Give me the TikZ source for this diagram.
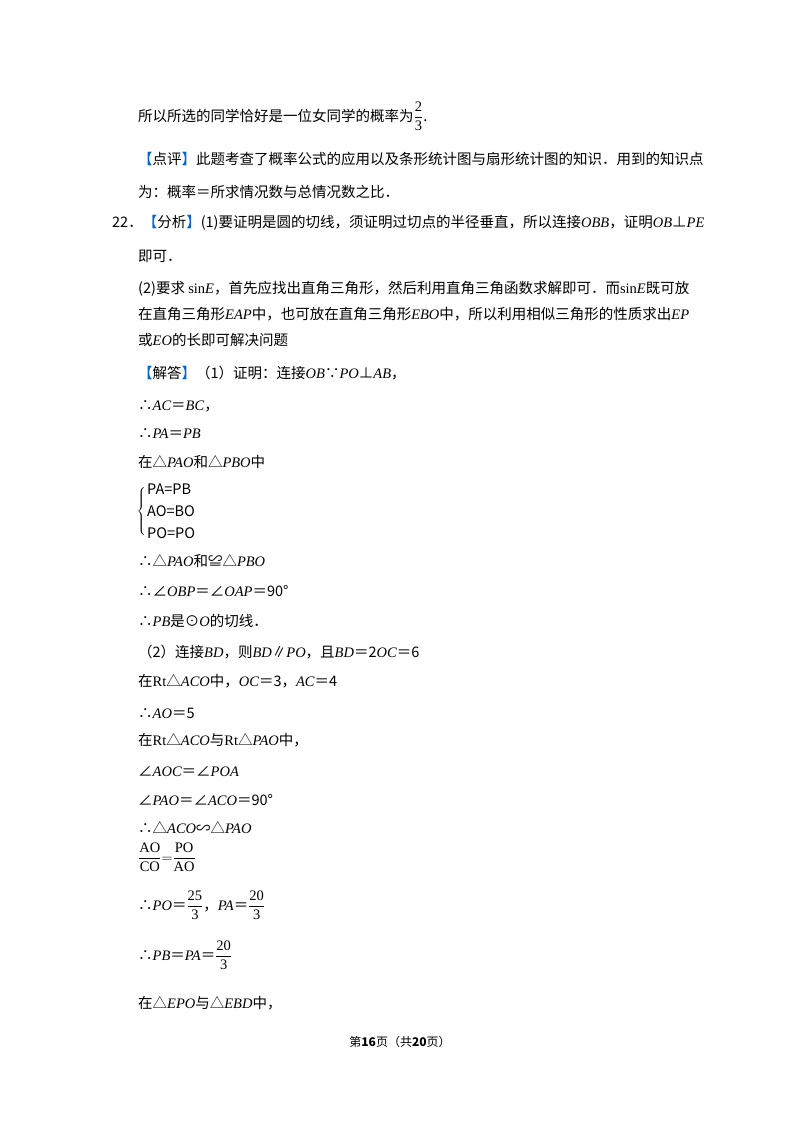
\documentclass[tikz,border=0pt]{standalone}
\usepackage{fontspec}
\setmainfont{Liberation Serif}
\newfontfamily\cjk{Noto Sans CJK SC}
\newcommand{\m}[1]{{\normalfont\itshape #1}}
\newcommand{\rr}[1]{{\normalfont #1}}
\newcommand{\fr}[2]{$\displaystyle\frac{\mathrm{#1}}{\mathrm{#2}}$}
\definecolor{blu}{RGB}{0,102,204}
\newcommand{\bk}[1]{\textcolor{blu}{【}#1\textcolor{blu}{】}}
\begin{document}
\begin{tikzpicture}[x=1pt,y=-1pt,
  t/.style={anchor=base west,inner sep=0pt,font=\cjk\fontsize{14.5}{17}\selectfont}]
\useasboundingbox (0,0) rectangle (800,1132);
\fill[white] (0,0) rectangle (800,1132);
\node[t] (l1) at (138,121) {所以所选的同学恰好是一位女同学的概率为\fr{2}{3}.};
\node[t] (l2) at (138,164) {\bk{点评}此题考查了概率公式的应用以及条形统计图与扇形统计图的知识．用到的知识点};
\node[t] (l3) at (138,197) {为：概率＝所求情况数与总情况数之比．};
\node[t] (l4) at (112,227) {22．\bk{分析}(1)要证明是圆的切线，须证明过切点的半径垂直，所以连接\m{OBB}，证明\m{OB}⊥\m{PE}};
\node[t] (l5) at (138,261) {即可．};
\node[t] (l6) at (138,293) {(2)要求 \rr{sin}\m{E}，首先应找出直角三角形，然后利用直角三角函数求解即可．而\rr{sin}\m{E}既可放};
\node[t] (l7) at (138,319) {在直角三角形\m{EAP}中，也可放在直角三角形\m{EBO}中，所以利用相似三角形的性质求出\m{EP}};
\node[t] (l8) at (138,345) {或\m{EO}的长即可解决问题};
\node[t] (l9) at (138,378) {\bk{解答}（1）证明：连接\m{OB}∵\m{PO}⊥\m{AB}，};
\node[t] (l10) at (138,410) {∴\m{AC}＝\m{BC}，};
\node[t] (l11) at (138,438) {∴\m{PA}＝\m{PB}};
\node[t] (l12) at (138,467) {在△\m{PAO}和△\m{PBO}中};
\node[t,anchor=center] (br) at (142,510) {$\left\{\rule{0pt}{30pt}\right.$};
\node[t] (b1) at (147,494) {PA=PB};
\node[t] (b2) at (147,516) {AO=BO};
\node[t] (b3) at (147,538) {PO=PO};
\node[t] (l13) at (138,566) {∴△\m{PAO}和≌△\m{PBO}};
\node[t] (l14) at (138,596) {∴∠\m{OBP}＝∠\m{OAP}＝90°};
\node[t] (l15) at (138,626) {∴\m{PB}是⊙\m{O}的切线．};
\node[t] (l16) at (138,657) {（2）连接\m{BD}，则\m{BD}∥\m{PO}，且\m{BD}＝2\m{OC}＝6};
\node[t] (l17) at (138,686) {在\rr{Rt}△\m{ACO}中，\m{OC}＝3，\m{AC}＝4};
\node[t] (l18) at (138,718) {∴\m{AO}＝5};
\node[t] (l19) at (138,745) {在\rr{Rt}△\m{ACO}与\rr{Rt}△\m{PAO}中，};
\node[t] (l20) at (138,776) {∠\m{AOC}＝∠\m{POA}};
\node[t] (l21) at (138,805) {∠\m{PAO}＝∠\m{ACO}＝90°};
\node[t] (l22) at (138,833) {∴△\m{ACO}∽△\m{PAO}};
\node[t] (l23) at (138,862) {\fr{AO}{CO}$=$\fr{PO}{AO}};
\node[t] (l24) at (138,910) {∴\m{PO}＝\fr{25}{3}，\m{PA}＝\fr{20}{3}};
\node[t] (l25) at (138,960) {∴\m{PB}＝\m{PA}＝\fr{20}{3}};
\node[t] (l26) at (138,1008) {在△\m{EPO}与△\m{EBD}中，};
\node[t,anchor=base,font=\cjk\fontsize{12}{14}\selectfont] (ft) at (400,1046) {第\textbf{16}页（共\textbf{20}页）};
\end{tikzpicture}
\end{document}
